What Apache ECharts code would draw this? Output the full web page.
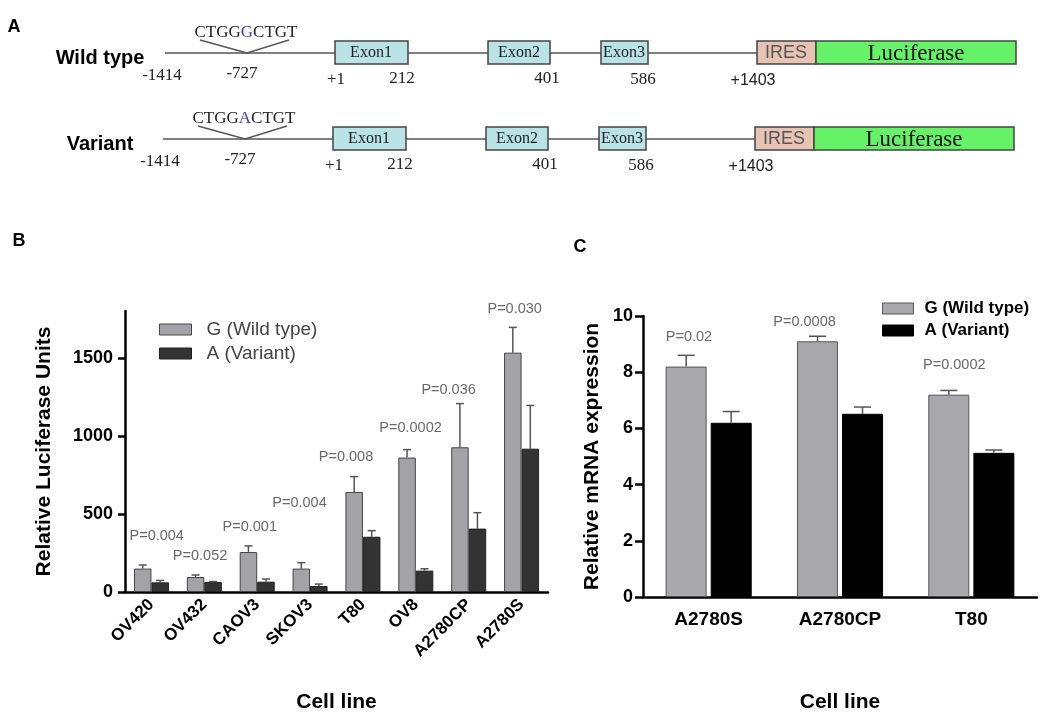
<!DOCTYPE html>
<html>
<head>
<meta charset="utf-8">
<script src="https://cdn.jsdelivr.net/npm/echarts@6/dist/echarts.min.js"></script>
<style>
html,body{margin:0;padding:0;background:#fff;}
#chart{width:1050px;height:727px;}
</style>
</head>
<body>
<div id="chart"></div>
<script>
// ---------- Data: panel B (luciferase assay) ----------
const cellLinesB = ['OV420', 'OV432', 'CAOV3', 'SKOV3', 'T80', 'OV8', 'A2780CP', 'A2780S'];
const luciferaseG = [150, 96, 256, 150, 641, 861, 927, 1533];
const luciferaseGErr = [23, 13, 39, 38, 98, 51, 280, 162];
const luciferaseA = [62, 64, 66, 38, 354, 137, 406, 918];
const luciferaseAErr = [12, 3, 17, 13, 39, 12, 102, 277];
const pLabelsB = ['P=0.004', 'P=0.052', 'P=0.001', 'P=0.004', 'P=0.008', 'P=0.0002', 'P=0.036', 'P=0.030'];
const pLabelBx = [0.1, -0.08, -0.14, -0.2, -0.32, -0.1, -0.38, -0.13];
const pLabelBy = [361, 233, 417, 572, 867, 1051, 1295, 1814];
const luciferaseTicks = [0, 500, 1000, 1500];

// ---------- Data: panel C (mRNA expression) ----------
const cellLinesC = ['A2780S', 'A2780CP', 'T80'];
const mrnaG = [8.2, 9.1, 7.2];
const mrnaGErr = [0.4, 0.18, 0.15];
const mrnaA = [6.2, 6.52, 5.13];
const mrnaAErr = [0.4, 0.24, 0.1];
const pLabelsC = ['P=0.02', 'P=0.0008', 'P=0.0002'];
const pLabelCx = [-0.15, -0.27, -0.13];
const pLabelCy = [9.25, 9.8, 8.26];

const seriesNames = ['G (Wild type)', 'A (Variant)'];

// ---------- Panel A labels ----------
const constructRows = ['Wild type', 'Variant'];
const snpBase = ['G', 'A'];
const positionLabels = ['-1414', '-727', '+1', '212', '401', '586'];

const SANS = 'Liberation Sans, Arial, sans-serif';
const SERIF = 'Liberation Serif, Times New Roman, serif';

const chart = echarts.init(document.getElementById('chart'));

function errRender(offset, cap, color) {
  return function (params, api) {
    const i = api.value(0), v = api.value(1), e = api.value(2);
    const p0 = api.coord([i, v]);
    const p1 = api.coord([i, v + e]);
    const x = p0[0] + offset;
    return {
      type: 'group',
      children: [
        { type: 'line', shape: { x1: x, y1: p0[1], x2: x, y2: p1[1] }, style: { stroke: color, lineWidth: 1.5 } },
        { type: 'line', shape: { x1: x - cap / 2, y1: p1[1], x2: x + cap / 2, y2: p1[1] }, style: { stroke: color, lineWidth: 1.5 } }
      ]
    };
  };
}
function errData(vals, errs) { return vals.map((v, i) => [i, v, errs[i]]); }
function pData(labels, xs, ys) { return labels.map((t, i) => ({ name: t, value: [i + xs[i], ys[i]] })); }

// ---------- Panel A graphics ----------
function constructRow(idx, dy, dx) {
  const els = [];
  const ly = 53 + dy;
  const line = (x1, y1, x2, y2) => ({ type: 'line', shape: { x1, y1, x2, y2 }, style: { stroke: '#555', lineWidth: 1.6 } });
  const txt = (x, y, t, font, size, color, weight) => ({
    type: 'text', x, y,
    style: { text: t, fontFamily: font, fontSize: size, fill: color || '#222', fontWeight: weight || 'normal', align: 'center', verticalAlign: 'middle' }
  });
  const box = (x1, x2, fill) => ({ type: 'rect', shape: { x: x1 + dx, y: 41 + dy, width: x2 - x1, height: 23 }, style: { fill, stroke: '#444', lineWidth: 1.5 } });
  els.push(txt(100, 58 + dy, constructRows[idx], SANS, 20, '#000', 'bold'));
  els.push(line(165 + dx, ly, 757 + dx, ly));
  els.push({ type: 'polyline', shape: { points: [[200 + dx, 40 + dy], [247 + dx, ly], [289 + dx, 40 + dy]] }, style: { stroke: '#555', lineWidth: 1.4, fill: null } });
  els.push({
    type: 'text', x: 246 + dx, y: 33 + dy,
    style: {
      text: '{a|CTGG}{b|' + snpBase[idx] + '}{a|CTGT}', align: 'center', verticalAlign: 'middle',
      rich: { a: { fontFamily: SERIF, fontSize: 17, fill: '#222' }, b: { fontFamily: SERIF, fontSize: 17, fill: '#3b3bbb' } }
    }
  });
  const posX = [162, 242, 336, 402, 547, 643];
  const posY = [76, 74, 80, 79, 79, 80];
  positionLabels.forEach((t, i) => els.push(txt(posX[i] + dx, posY[i] + dy, t, SERIF, 17, '#222')));
  els.push(txt(753 + dx, 81 + dy, '+1403', SANS, 16, '#222'));
  els.push(box(335, 408, '#b9e3e6'));
  els.push(box(488, 550, '#b9e3e6'));
  els.push(box(601, 648, '#b9e3e6'));
  els.push(box(757, 816, '#e6c3b3'));
  els.push(box(816, 1016, '#66f266'));
  els.push(txt(371 + dx, 53 + dy, 'Exon1', SERIF, 16, '#222'));
  els.push(txt(519 + dx, 53 + dy, 'Exon2', SERIF, 16, '#222'));
  els.push(txt(624 + dx, 53 + dy, 'Exon3', SERIF, 16, '#222'));
  els.push(txt(786 + dx, 53 + dy, 'IRES', SANS, 18, '#555'));
  els.push(txt(916 + dx, 54 + dy, 'Luciferase', SERIF, 23, '#111'));
  return els;
}

const graphics = [].concat(
  constructRow(0, 0, 0),
  constructRow(1, 86, -2),
  [
    { type: 'text', x: 14, y: 27, style: { text: 'A', fontFamily: SANS, fontSize: 18, fontWeight: 'bold', fill: '#000', align: 'center', verticalAlign: 'middle' } },
    { type: 'text', x: 19, y: 241, style: { text: 'B', fontFamily: SANS, fontSize: 18, fontWeight: 'bold', fill: '#000', align: 'center', verticalAlign: 'middle' } },
    { type: 'text', x: 580, y: 247, style: { text: 'C', fontFamily: SANS, fontSize: 18, fontWeight: 'bold', fill: '#000', align: 'center', verticalAlign: 'middle' } }
  ]
);

const axisLineStyle = { color: '#000', width: 2.5 };
const boldLabel = { fontFamily: SANS, fontWeight: 'bold', color: '#000' };

const option = {
  animation: false,
  backgroundColor: '#fff',
  graphic: graphics,
  grid: [
    { left: 125, top: 311, width: 423, height: 281 },
    { left: 643, top: 316, width: 394, height: 281 }
  ],
  legend: [
    {
      orient: 'vertical', left: 154, top: 315, itemWidth: 32, itemHeight: 11, itemGap: 5, icon: 'rect',
      textStyle: { fontFamily: SANS, fontSize: 19, color: '#444', padding: [0, 0, 0, 10] },
      data: [
        { name: seriesNames[0], itemStyle: { color: '#a3a3a7', borderColor: '#444', borderWidth: 1 } },
        { name: seriesNames[1], itemStyle: { color: '#333', borderColor: '#222', borderWidth: 1 } }
      ]
    },
    {
      orient: 'vertical', left: 877, top: 295, itemWidth: 31, itemHeight: 11, itemGap: 5, icon: 'rect',
      textStyle: { fontFamily: SANS, fontSize: 17, fontWeight: 'bold', color: '#000', padding: [0, 0, 0, 6] },
      data: [
        { name: seriesNames[0], itemStyle: { color: '#a8a8ac', borderColor: '#555', borderWidth: 1 } },
        { name: seriesNames[1], itemStyle: { color: '#000', borderColor: '#000', borderWidth: 1 } }
      ]
    }
  ],
  xAxis: [
    {
      gridIndex: 0, type: 'category', data: cellLinesB,
      axisLine: { onZero: false, lineStyle: axisLineStyle },
      axisTick: { alignWithLabel: true, length: 7, lineStyle: { width: 2.5, color: '#000' } },
      axisLabel: Object.assign({ rotate: 45, fontSize: 17, margin: 10, interval: 0 }, boldLabel),
      name: 'Cell line', nameLocation: 'middle', nameGap: 100,
      nameTextStyle: { fontFamily: SANS, fontWeight: 'bold', fontSize: 21, color: '#000' }
    },
    { gridIndex: 0, type: 'value', min: -0.5, max: 7.5, show: false },
    {
      gridIndex: 1, type: 'category', data: cellLinesC,
      axisLine: { onZero: false, lineStyle: axisLineStyle },
      axisTick: { alignWithLabel: true, length: 7, lineStyle: { width: 2.5, color: '#000' } },
      axisLabel: Object.assign({ fontSize: 19, margin: 13 }, boldLabel),
      name: 'Cell line', nameLocation: 'middle', nameGap: 95,
      nameTextStyle: { fontFamily: SANS, fontWeight: 'bold', fontSize: 21, color: '#000' }
    },
    { gridIndex: 1, type: 'value', min: -0.5, max: 2.5, show: false }
  ],
  yAxis: [
    {
      gridIndex: 0, type: 'value', min: 0, max: 1800,
      splitLine: { show: false },
      axisLine: { show: true, onZero: false, lineStyle: axisLineStyle },
      axisTick: { show: true, length: 7, lineStyle: { width: 2.5, color: '#000' }, customValues: luciferaseTicks },
      axisLabel: Object.assign({ fontSize: 18, margin: 12, customValues: luciferaseTicks, formatter: v => String(v) }, boldLabel),
      name: 'Relative Luciferase Units', nameLocation: 'middle', nameGap: 70,
      nameTextStyle: { fontFamily: SANS, fontWeight: 'bold', fontSize: 21, color: '#000' }
    },
    {
      gridIndex: 1, type: 'value', min: 0, max: 10, interval: 2,
      splitLine: { show: false },
      axisLine: { show: true, onZero: false, lineStyle: axisLineStyle },
      axisTick: { show: true, length: 8, lineStyle: { width: 2.5, color: '#000' } },
      axisLabel: Object.assign({ fontSize: 18, margin: 10 }, boldLabel),
      name: 'Relative mRNA expression', nameLocation: 'middle', nameGap: 40,
      nameTextStyle: { fontFamily: SANS, fontWeight: 'bold', fontSize: 21, color: '#000' }
    }
  ],
  series: [
    {
      name: seriesNames[0], type: 'bar', xAxisIndex: 0, yAxisIndex: 0, data: luciferaseG,
      barWidth: 17.5, barGap: '0%',
      itemStyle: { color: '#a3a3a7', borderColor: '#444', borderWidth: 1 }
    },
    {
      name: seriesNames[1], type: 'bar', xAxisIndex: 0, yAxisIndex: 0, data: luciferaseA,
      barWidth: 17.5, barGap: '0%',
      itemStyle: { color: '#333', borderColor: '#222', borderWidth: 1 }
    },
    {
      type: 'custom', xAxisIndex: 0, yAxisIndex: 0, data: errData(luciferaseG, luciferaseGErr),
      renderItem: errRender(-8.75, 8, '#555'), clip: false, z: 3, silent: true
    },
    {
      type: 'custom', xAxisIndex: 0, yAxisIndex: 0, data: errData(luciferaseA, luciferaseAErr),
      renderItem: errRender(8.75, 8, '#555'), clip: false, z: 3, silent: true
    },
    {
      type: 'scatter', xAxisIndex: 1, yAxisIndex: 0, data: pData(pLabelsB, pLabelBx, pLabelBy),
      symbolSize: 0, clip: false, silent: true,
      label: { show: true, position: 'inside', formatter: '{b}', fontFamily: SANS, fontSize: 14.5, color: '#444' }
    },
    {
      name: seriesNames[0], type: 'bar', xAxisIndex: 2, yAxisIndex: 1, data: mrnaG,
      barWidth: 41, barGap: '10%',
      itemStyle: { color: '#a8a8ac', borderColor: '#555', borderWidth: 1 }
    },
    {
      name: seriesNames[1], type: 'bar', xAxisIndex: 2, yAxisIndex: 1, data: mrnaA,
      barWidth: 41, barGap: '10%',
      itemStyle: { color: '#000', borderColor: '#000', borderWidth: 1 }
    },
    {
      type: 'custom', xAxisIndex: 2, yAxisIndex: 1, data: errData(mrnaG, mrnaGErr),
      renderItem: errRender(-22.5, 17, '#555'), clip: false, z: 3, silent: true
    },
    {
      type: 'custom', xAxisIndex: 2, yAxisIndex: 1, data: errData(mrnaA, mrnaAErr),
      renderItem: errRender(22.5, 17, '#555'), clip: false, z: 3, silent: true
    },
    {
      type: 'scatter', xAxisIndex: 3, yAxisIndex: 1, data: pData(pLabelsC, pLabelCx, pLabelCy),
      symbolSize: 0, clip: false, silent: true,
      label: { show: true, position: 'inside', formatter: '{b}', fontFamily: SANS, fontSize: 14.5, color: '#444' }
    }
  ]
};
chart.setOption(option);
</script>
</body>
</html>
